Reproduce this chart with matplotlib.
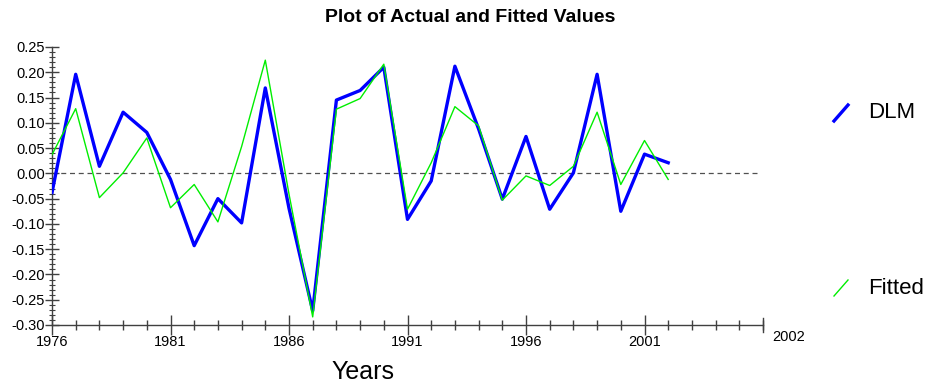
#!/usr/bin/env python3
"""Plot of actual (DLM) and fitted values, 1976-2002."""

import numpy as np
import matplotlib
matplotlib.use('Agg')
import matplotlib.pyplot as plt
from matplotlib.ticker import MultipleLocator, FixedLocator

BLUE = '#0000ff'
GREEN = '#00ee00'
AXIS = '#404040'
INK = '#000000'

years = list(range(1976, 2003))

dlm = [-0.038, 0.196, 0.014, 0.121, 0.081, -0.012, -0.143, -0.050, -0.098,
       0.169, -0.069, -0.272, 0.145, 0.164, 0.210, -0.091, -0.015, 0.212,
       0.088, -0.051, 0.073, -0.071, 0.001, 0.196, -0.075, 0.038, 0.021]

fitted = [0.037, 0.128, -0.048, 0.001, 0.070, -0.068, -0.022, -0.096, 0.053,
          0.224, -0.041, -0.284, 0.127, 0.148, 0.216, -0.071, 0.021, 0.132,
          0.094, -0.053, -0.005, -0.024, 0.014, 0.121, -0.022, 0.065, -0.012]

major_years = [1976, 1981, 1986, 1991, 1996, 2001]
end_label = '2002'
y_ticks = [0.25, 0.20, 0.15, 0.10, 0.05, 0.00, -0.05, -0.10, -0.15, -0.20,
           -0.25, -0.30]

if __name__ == '__main__':
    plt.rcParams['font.family'] = ['Liberation Sans', 'DejaVu Sans']

    fig = plt.figure(figsize=(9.35, 3.87), dpi=100)
    ax = fig.add_axes([52 / 935, 1 - 325 / 387, (763 - 52) / 935,
                       (325 - 47) / 387])

    ax.plot([1976, 2005.8], [0, 0], color='#505050', linestyle=(0, (4, 3)),
            linewidth=0.9, zorder=1)
    ln_d, = ax.plot(years, dlm, color=BLUE, linewidth=2.4, zorder=3)
    ln_f, = ax.plot(years, fitted, color=GREEN, linewidth=1.0, zorder=4)

    ax.set_xlim(1976, 2006)
    ax.set_ylim(-0.30, 0.25)

    for side in ('top', 'right'):
        ax.spines[side].set_visible(False)
    for side in ('left', 'bottom'):
        ax.spines[side].set_color(AXIS)
        ax.spines[side].set_linewidth(1.0)

    # x axis: yearly minor ticks, 5-year majors, odd end label
    ax.xaxis.set_major_locator(FixedLocator(major_years))
    ax.set_xticklabels([str(y) for y in major_years])
    ax.xaxis.set_minor_locator(MultipleLocator(1))
    ax.tick_params(axis='x', which='major', direction='inout', length=14,
                   width=1.0, color=AXIS, labelsize=10.5, pad=0)
    ax.tick_params(axis='x', which='minor', direction='inout', length=7,
                   width=1.0, color=AXIS)
    ax.axvline(2006, ymin=-0.025, ymax=0.025, color=AXIS, linewidth=1.0,
               clip_on=False)
    ax.text(2006.4, -0.31, end_label, fontsize=10.5, ha='left', va='top',
            color=INK)

    ax.yaxis.set_major_locator(FixedLocator(y_ticks))
    ax.set_yticklabels([f'{v:.2f}' for v in y_ticks])
    ax.yaxis.set_minor_locator(MultipleLocator(0.01))
    ax.tick_params(axis='y', which='major', direction='inout', length=10,
                   width=1.0, color=AXIS, labelsize=10.5, pad=0)
    ax.tick_params(axis='y', which='minor', direction='inout', length=5,
                   width=0.8, color=AXIS)

    fig.text(470 / 935, 1 - 18 / 387, 'Plot of Actual and Fitted Values',
             fontsize=14, fontweight='bold', ha='center', va='center',
             color=INK)
    fig.text(363 / 935, 1 - 372 / 387, 'Years', fontsize=18, ha='center',
             va='center', color=INK)

    # legend: short diagonal strokes with labels on the right
    for y0, line, label in ((113, ln_d, 'DLM'), (288, ln_f, 'Fitted')):
        yf = 1 - y0 / 387
        fig.add_artist(plt.Line2D([834 / 935, 848 / 935],
                                  [yf - 8 / 387, yf + 8 / 387],
                                  color=line.get_color(),
                                  linewidth=line.get_linewidth(),
                                  transform=fig.transFigure))
        fig.text(868 / 935, yf, label, fontsize=16, ha='left', va='center',
                 color=INK)

    fig.savefig('out.png', dpi=100)
